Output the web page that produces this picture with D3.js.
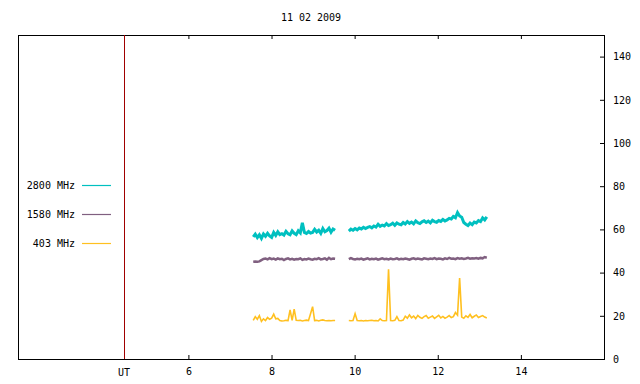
<!DOCTYPE html>
<html>
<head>
<meta charset="utf-8">
<script src="https://cdn.jsdelivr.net/npm/d3@7"></script>
<style>
  body { margin: 0; background: #fff; }
  text { font-family: "DejaVu Sans Mono", monospace; font-size: 10px; fill: #000; }
</style>
</head>
<body>
<div id="chart"></div>
<script>
// chart data
var title = "11 02 2009";
var xTicks = [6, 8, 10, 12, 14];
var yTicks = [0, 20, 40, 60, 80, 100, 120, 140];
var utMark = 4.45;

// two observation segments (start hour, end hour)
var seg1 = [7.56, 9.53];
var seg2 = [9.86, 13.18];

var names = ["2800 MHz", "1580 MHz", "403 MHz"];
var colors = ["#00c0c0", "#806080", "#ffc020"];

var f2800a = [56.5,57.8,56.2,57.5,55.8,57.9,56.8,58.2,57.0,56.3,58.6,57.2,58.9,57.6,58.0,57.4,59.1,58.0,57.5,59.3,
  58.2,57.6,59.4,58.4,63.0,58.6,58.1,59.0,58.3,58.6,60.0,58.8,59.6,58.2,60.4,58.9,59.5,60.6,58.7,60.2,59.6];
var f2800b = [59.2,60.1,59.6,60.4,59.8,60.6,60.2,61.0,60.4,60.9,
  61.3,60.7,61.6,61.1,62.4,61.4,62.0,61.6,62.7,61.8,
  62.2,62.9,61.9,63.0,62.4,62.1,63.2,62.5,63.6,62.8,
  63.4,62.6,63.9,63.1,62.7,63.5,64.0,63.2,63.8,63.0,
  64.2,63.6,63.3,64.1,63.7,64.6,63.9,64.4,65.1,64.8,
  66.0,65.4,67.8,66.2,65.6,63.2,62.4,61.8,62.9,62.2,
  63.4,63.0,64.1,63.6,65.3,64.4,65.8];

var f1580a = [45.0,45.1,45.0,45.2,45.8,46.3,46.5,46.1,46.7,46.2,46.5,46.0,46.6,46.2,46.4,45.8,46.3,46.6,46.1,46.4,
  46.0,46.3,46.2,46.6,45.9,46.3,46.1,46.5,46.2,46.0,46.4,46.2,46.7,46.1,46.3,46.6,46.0,46.8,46.2,46.5,46.4];
var f1580b = [46.2,46.7,46.3,46.1,46.4,46.2,46.5,46.0,46.3,46.6,
  46.1,46.4,46.2,46.5,46.0,46.3,46.6,46.2,46.4,46.1,
  46.5,46.2,46.3,46.6,46.1,46.4,46.2,46.5,46.3,46.0,
  46.4,46.6,46.2,46.5,46.3,46.1,46.6,46.4,46.2,46.5,
  46.3,46.7,46.2,46.5,46.4,46.1,46.6,46.3,46.8,46.4,
  46.5,46.2,46.7,46.4,46.6,46.3,46.5,46.8,46.4,46.6,
  46.5,46.7,46.4,46.8,46.6,47.2,46.9];

var f403a = [17.9,19.6,18.4,20.1,17.4,18.6,17.8,19.2,18.4,18.9,20.8,18.6,18.8,17.8,17.6,17.7,17.9,17.8,22.7,17.9,
  23.1,17.9,17.8,17.9,17.6,17.8,18.0,17.8,20.9,24.2,17.8,17.9,17.6,17.9,18.1,17.8,17.7,17.8,17.7,17.8,17.8];
var f403b = [17.8,17.7,17.8,21.0,17.8,17.7,17.8,17.6,17.8,17.7,
  17.8,17.9,17.7,17.8,17.6,18.6,17.8,17.7,17.8,41.5,
  17.8,17.7,17.9,19.6,17.8,17.7,18.0,19.8,18.9,20.4,
  19.1,19.9,18.7,20.2,19.3,18.8,19.6,20.1,18.9,19.4,
  19.9,18.8,19.5,20.2,19.0,19.7,18.9,19.4,20.1,19.2,
  19.6,21.5,20.3,37.5,19.4,18.9,20.0,19.3,20.6,19.1,
  19.8,20.4,19.2,19.7,20.1,19.4,19.0];

var series = [
  { name: names[0], color: colors[0], width: 3, parts: [f2800a, f2800b] },
  { name: names[1], color: colors[1], width: 2.5, parts: [f1580a, f1580b] },
  { name: names[2], color: colors[2], width: 1.6, parts: [f403a, f403b] }
];

// sample times of one segment, spread evenly between its start and end
function segPoints(seg, vals) {
  var t = d3.scaleLinear().domain([0, vals.length - 1]).range(seg);
  return vals.map((v, i) => ({ t: t(i), v: v }));
}

var width = 640, height = 384;
var margin = { top: 35, right: 36, bottom: 25, left: 18 };

var x = d3.scaleLinear()
    .domain([1.9, 16])
    .range([margin.left, width - margin.right]);

var y = d3.scaleLinear()
    .domain([0, 150])
    .range([height - margin.bottom, margin.top]);

var svg = d3.select("#chart").append("svg")
    .attr("width", width)
    .attr("height", height);

// title
svg.append("text")
    .attr("x", 311)
    .attr("y", 21)
    .attr("text-anchor", "middle")
    .text(title);

// bottom axis, ticks pointing in
var xb = svg.append("g")
    .attr("transform", "translate(0," + y(0) + ")")
    .call(d3.axisBottom(x).tickValues(xTicks).tickSize(-4).tickPadding(9).tickFormat(d3.format("d")));
xb.select(".domain").remove();

// mirrored ticks on top
var xt = svg.append("g")
    .attr("transform", "translate(0," + y(150) + ")")
    .call(d3.axisTop(x).tickValues(xTicks).tickSize(-4).tickFormat(""));
xt.select(".domain").remove();

// right axis, ticks pointing in
var yr = svg.append("g")
    .attr("transform", "translate(" + x(16) + ",0)")
    .call(d3.axisRight(y).tickValues(yTicks).tickSize(-4).tickPadding(9));
yr.select(".domain").remove();

svg.selectAll(".tick text").attr("font-family", "DejaVu Sans Mono").attr("font-size", 10);
svg.selectAll(".tick line").attr("stroke", "#000");

// UT label under the marker line
svg.append("text")
    .attr("x", x(utMark))
    .attr("y", y(0) + 17)
    .attr("text-anchor", "middle")
    .text("UT");

// frame
svg.append("rect")
    .attr("x", Math.round(x(1.9)) + 0.5)
    .attr("y", Math.round(y(150)) + 0.5)
    .attr("width", Math.round(x(16) - x(1.9)))
    .attr("height", Math.round(y(0) - y(150)))
    .attr("fill", "none")
    .attr("stroke", "#000");

// UT marker line
svg.append("line")
    .attr("x1", Math.round(x(utMark)) + 0.5).attr("x2", Math.round(x(utMark)) + 0.5)
    .attr("y1", y(150)).attr("y2", y(0))
    .attr("stroke", "#a00000");

var line = d3.line()
    .x(d => x(d.t))
    .y(d => y(d.v));

series.forEach(function(s) {
  [seg1, seg2].forEach(function(seg, k) {
    svg.append("path")
        .datum(segPoints(seg, s.parts[k]))
        .attr("fill", "none")
        .attr("stroke", s.color)
        .attr("stroke-width", s.width)
        .attr("d", line);
  });
});

// legend
var legend = svg.append("g");
series.forEach(function(s, i) {
  var ly = 185 + i * 29;
  legend.append("text")
      .attr("x", 75)
      .attr("y", ly)
      .attr("dy", "0.35em")
      .attr("text-anchor", "end")
      .text(s.name);
  legend.append("line")
      .attr("x1", 82).attr("x2", 111)
      .attr("y1", ly + 0.5).attr("y2", ly + 0.5)
      .attr("stroke", s.color)
      .attr("stroke-width", 1.2);
});
</script>
</body>
</html>
